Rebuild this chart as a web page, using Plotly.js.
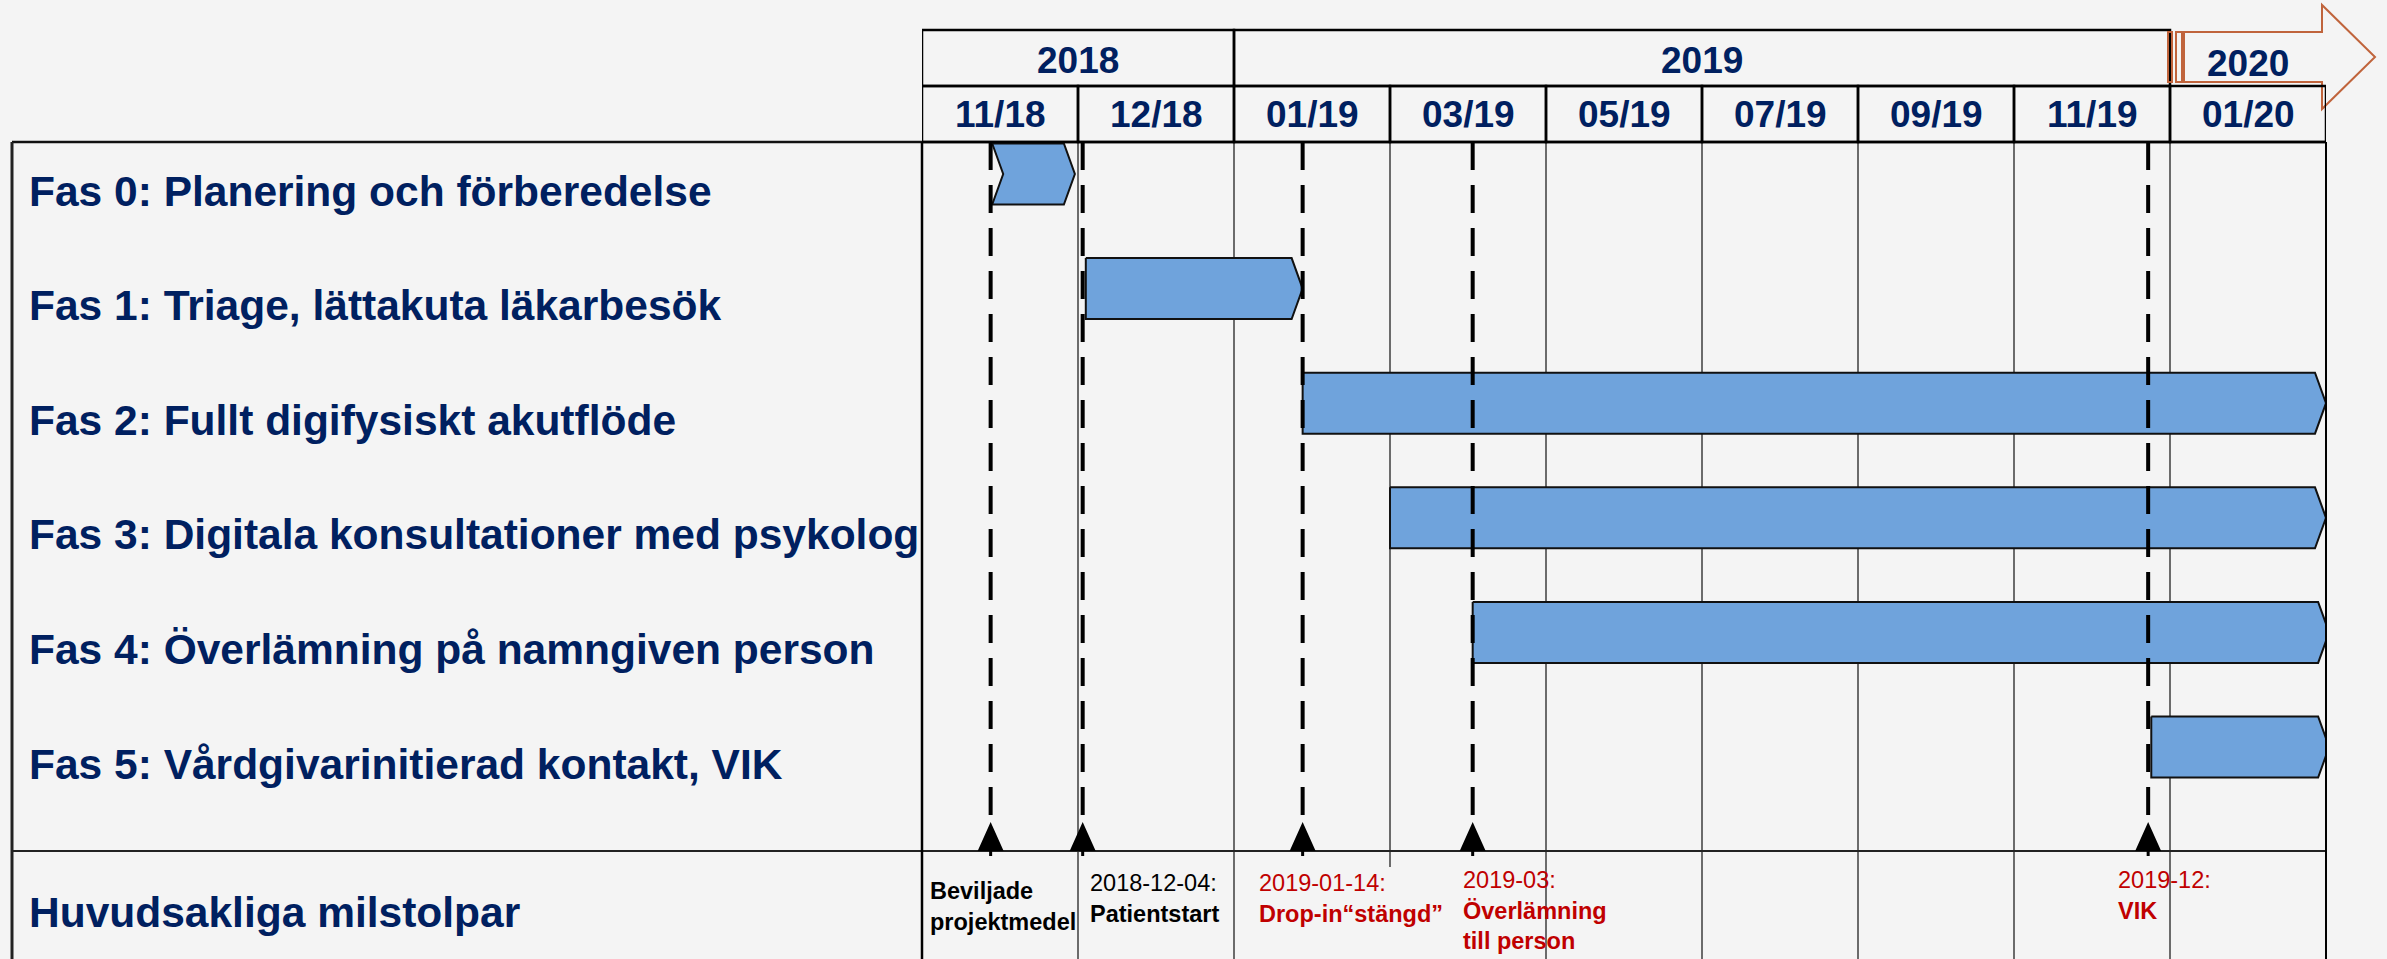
<!DOCTYPE html>
<html>
<head>
<meta charset="utf-8">
<script src="https://cdn.plot.ly/plotly-3.0.1.min.js"></script>
<style>
  html, body { margin: 0; padding: 0; background: #f4f4f4; }
  #chart { width: 2387px; height: 959px; }
</style>
</head>
<body>
<div id="chart"></div>
<script>
// Project timeline drawn as a table-style Gantt chart. The x axis runs in
// "column units": one unit per header column (11/18, 12/18, 01/19, ...).

// --- data ------------------------------------------------------------------

const YEAR_LABELS = ['2018', '2019', '2020'];
const YEAR_START = [0, 2, 8];
const YEAR_END = [2, 8, 9];

const MONTH_LABELS = ['11/18', '12/18', '01/19', '03/19', '05/19', '07/19', '09/19', '11/19', '01/20'];

const PHASE_LABELS = [
  'Fas 0: Planering och förberedelse',
  'Fas 1: Triage, lättakuta läkarbesök',
  'Fas 2: Fullt digifysiskt akutflöde',
  'Fas 3: Digitala konsultationer med psykolog',
  'Fas 4: Överlämning på namngiven person',
  'Fas 5: Vårdgivarinitierad kontakt, VIK',
];
const PHASE_START = [0.45, 1.05, 2.44, 3.0, 3.53, 7.88];
const PHASE_END = [0.98, 2.44, 9.0, 9.0, 9.02, 9.02];

const MILESTONE_ROW_LABEL = 'Huvudsakliga milstolpar';
const MILESTONE_X = [0.44, 1.03, 2.44, 3.53, 7.86];
const MILESTONE_DATE = ['', '2018-12-04:', '2019-01-14:', '2019-03:', '2019-12:'];
const MILESTONE_TEXT = [
  ['Beviljade', 'projektmedel'],
  ['Patientstart'],
  ['Drop-in“stängd”'],
  ['Överlämning', 'till person'],
  ['VIK'],
];

// --- style -----------------------------------------------------------------

const W = 2387;
const H = 959;
const BG = '#f4f4f4';
const NAVY = '#002060';
const RED = '#c00000';
const BAR_FILL = '#6fa3dc';
const ARROW_COLOR = '#c0643c';
const FONT = 'Liberation Sans, Arial, sans-serif';

// table frame, in page pixels
const TABLE_LEFT = 12;
const LABEL_RIGHT = 922;
const TIME_RIGHT = 2326;
const HEAD_TOP = 30;
const HEAD_MID = 86;
const BODY_TOP = 142;
const MILESTONE_TOP = 851;
const DASH_BOTTOM = 822;
const LABEL_BOX_TOP = 867;

const ROW0_PX = 174;      // centre of the first phase row
const ROW_PITCH = 114.6;  // px between phase rows
const BAR_HALF_PX = 30.5;
const TIP_PX = 11;
const NOTCHED = [true, false, false, false, false, false];

const YEAR_TEXT_Y = [60, 60, 63];
const MONTH_TEXT_Y = 115;
const MS_COLOR = ['#000000', '#000000', RED, RED, RED];
const MS_DX = [-63, 5, -46, -12, -32];
const MS_DY = [-8, 0, 0, 3, 3];
const MS_BACKED = [false, false, true, false, false]; // label box hides grid

const px = (v) => v / W;
const py = (v) => 1 - v / H;
const colPx = (TIME_RIGHT - LABEL_RIGHT) / MONTH_LABELS.length;
const colToPaper = (c) => px(LABEL_RIGHT + c * colPx);
const tipX = TIP_PX / colPx;
const barHalf = BAR_HALF_PX / ROW_PITCH;

// --- traces ----------------------------------------------------------------

function phaseTrace(i) {
  const s = PHASE_START[i];
  const e = PHASE_END[i];
  const top = i - barHalf;
  const bot = i + barHalf;
  const xs = [s, e - tipX, e, e - tipX, s];
  const ys = [top, top, i, bot, bot];
  if (NOTCHED[i]) {
    xs.push(s + tipX);
    ys.push(i);
  }
  xs.push(s);
  ys.push(top);
  return {
    type: 'scatter',
    mode: 'lines',
    x: xs,
    y: ys,
    fill: 'toself',
    fillcolor: BAR_FILL,
    line: { color: '#111111', width: 2 },
    hoverinfo: 'skip',
    showlegend: false,
  };
}

const traces = PHASE_LABELS.map((_, i) => phaseTrace(i));

// --- shapes ----------------------------------------------------------------

function pageLine(x0, y0, x1, y1, color, width) {
  return {
    type: 'line', xref: 'paper', yref: 'paper',
    x0: px(x0), y0: py(y0), x1: px(x1), y1: py(y1),
    line: { color, width },
  };
}

function headerCell(x0, x1, yTop, yBot) {
  return {
    type: 'rect', xref: 'x', yref: 'paper',
    x0, x1, y0: py(yBot), y1: py(yTop),
    line: { color: '#000000', width: 2.5 },
    fillcolor: 'rgba(0,0,0,0)',
  };
}

const shapes = [];

// label backing boxes in the milestone row (they hide the grid behind them)
MILESTONE_X.forEach((x, i) => {
  if (!MS_BACKED[i]) return;
  shapes.push({
    type: 'rect', xref: 'x', yref: 'paper',
    x0: Math.floor(x) + 0.015, x1: Math.floor(x) + 1.03,
    y0: 0, y1: py(LABEL_BOX_TOP),
    fillcolor: BG, line: { width: 0 },
  });
});

shapes.push(
  pageLine(TABLE_LEFT, BODY_TOP, TIME_RIGHT, BODY_TOP, '#111111', 2.5),
  pageLine(TABLE_LEFT, MILESTONE_TOP, TIME_RIGHT, MILESTONE_TOP, '#222222', 2),
  pageLine(TABLE_LEFT, BODY_TOP, TABLE_LEFT, H, '#222222', 3),
  pageLine(LABEL_RIGHT, BODY_TOP, LABEL_RIGHT, H, '#000000', 2.5),
  pageLine(TIME_RIGHT, BODY_TOP, TIME_RIGHT, H, '#000000', 2),
);

// year row: closed years are boxes, the last (ongoing) year is an arrow
YEAR_LABELS.forEach((_, i) => {
  if (i < YEAR_LABELS.length - 1) {
    shapes.push(headerCell(YEAR_START[i], YEAR_END[i], HEAD_TOP, HEAD_MID));
  }
});
shapes.push({
  // paper-referenced so the arrow head is not clipped at the plot edge
  type: 'path', xref: 'paper', yref: 'paper',
  xsizemode: 'pixel', ysizemode: 'pixel',
  xanchor: colToPaper(YEAR_START[YEAR_LABELS.length - 1]), yanchor: py(57),
  path: 'M -2,25 L 2,25 L 2,-25 L -2,-25 Z ' +
        'M 6,25 L 12,25 L 12,-25 L 6,-25 Z ' +
        'M 14,25 L 152,25 L 152,52 L 205,0 L 152,-52 L 152,-25 L 14,-25 Z',
  line: { color: ARROW_COLOR, width: 2 },
  fillcolor: 'rgba(0,0,0,0)',
});

MONTH_LABELS.forEach((_, i) => {
  shapes.push(headerCell(i, i + 1, HEAD_MID, BODY_TOP));
});

MILESTONE_X.forEach((x) => {
  shapes.push({
    type: 'line', xref: 'x', yref: 'paper',
    x0: x, x1: x, y0: py(BODY_TOP), y1: py(DASH_BOTTOM),
    line: { color: '#000000', width: 4, dash: '28px,15px' },
  });
  shapes.push({
    type: 'path', xref: 'x', yref: 'paper',
    xsizemode: 'pixel', ysizemode: 'pixel',
    xanchor: x, yanchor: py(MILESTONE_TOP),
    path: 'M -13,0 L 13,0 L 0,29 Z M -1.5,0 L 1.5,0 L 1.5,-5 L -1.5,-5 Z',
    fillcolor: '#000000',
    line: { width: 0 },
  });
});

// --- annotations -----------------------------------------------------------

const bold = (size, color) => ({ family: FONT, size, color, weight: 'bold' });

const annotations = [];

YEAR_LABELS.forEach((label, i) => {
  annotations.push({
    text: label, showarrow: false,
    xref: 'x', x: (YEAR_START[i] + YEAR_END[i]) / 2, xanchor: 'center',
    yref: 'paper', y: py(YEAR_TEXT_Y[i]), yanchor: 'middle',
    font: bold(37, NAVY),
  });
});

MONTH_LABELS.forEach((label, i) => {
  annotations.push({
    text: label, showarrow: false,
    xref: 'x', x: i + 0.5, xanchor: 'center',
    yref: 'paper', y: py(MONTH_TEXT_Y), yanchor: 'middle',
    font: bold(37, NAVY),
  });
});

PHASE_LABELS.forEach((label, i) => {
  annotations.push({
    text: label, showarrow: false,
    xref: 'paper', x: px(27), xanchor: 'left',
    yref: 'y', y: i, yanchor: 'middle', yshift: -17,
    font: bold(42.5, NAVY),
  });
});

annotations.push({
  text: MILESTONE_ROW_LABEL, showarrow: false,
  xref: 'paper', x: px(27), xanchor: 'left',
  yref: 'paper', y: py(912), yanchor: 'middle',
  font: bold(42.5, NAVY),
});

MILESTONE_X.forEach((x, i) => {
  const lines = MILESTONE_TEXT[i].map((t) => `<b>${t}</b>`);
  if (MILESTONE_DATE[i]) lines.unshift(MILESTONE_DATE[i]);
  annotations.push({
    text: lines.join('<br>'), showarrow: false, align: 'left',
    xref: 'x', x, xanchor: 'left', xshift: MS_DX[i],
    yref: 'paper', y: py(868), yanchor: 'top', yshift: MS_DY[i],
    font: { family: FONT, size: 23.5, color: MS_COLOR[i] },
  });
});

// --- layout ----------------------------------------------------------------

const layout = {
  width: W,
  height: H,
  margin: { l: 0, r: 0, t: 0, b: 0 },
  paper_bgcolor: BG,
  plot_bgcolor: BG,
  showlegend: false,
  xaxis: {
    domain: [px(LABEL_RIGHT), px(TIME_RIGHT)],
    range: [0, MONTH_LABELS.length],
    tickvals: MONTH_LABELS.map((_, i) => i),
    showticklabels: false,
    ticks: '',
    showgrid: true,
    gridcolor: '#6b6b6b',
    gridwidth: 1.5,
    zeroline: false,
    showline: false,
  },
  yaxis: {
    domain: [0, py(BODY_TOP)],
    range: [(H - ROW0_PX) / ROW_PITCH, (BODY_TOP - ROW0_PX) / ROW_PITCH],
    showticklabels: false,
    ticks: '',
    showgrid: false,
    zeroline: false,
    showline: false,
  },
  shapes,
  annotations,
};

Plotly.newPlot('chart', traces, layout, { staticPlot: true });
</script>
</body>
</html>
